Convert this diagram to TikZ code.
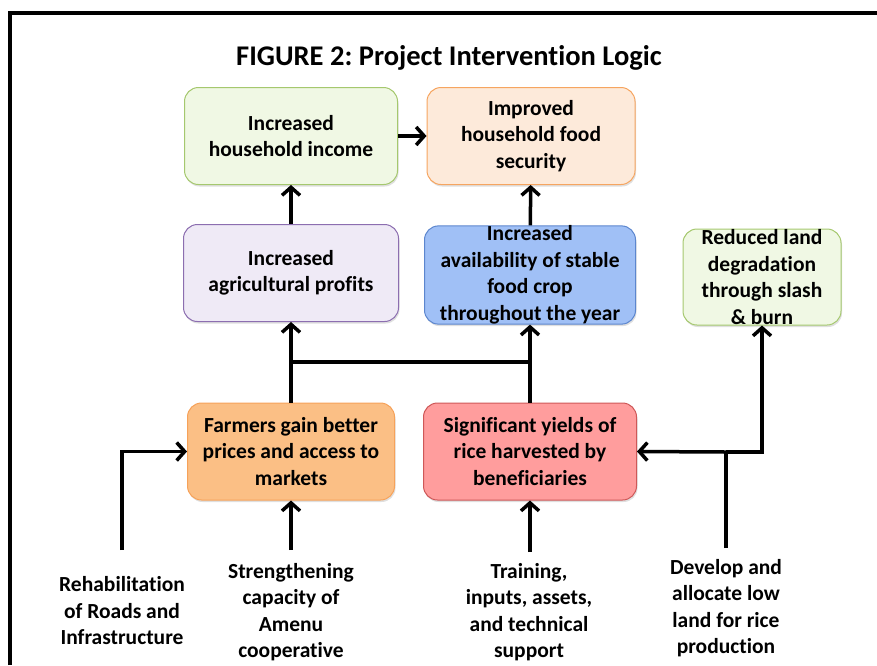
\documentclass[tikz,border=0pt]{standalone}
\usepackage{fontspec}
\setmainfont{Carlito}[Ligatures=CommonOff]
\usetikzlibrary{arrows.meta,shadows}
\frenchspacing

\definecolor{greenfill}{RGB}{240,248,228}
\definecolor{greenline}{RGB}{165,200,110}
\definecolor{peachfill}{RGB}{253,234,218}
\definecolor{peachline}{RGB}{246,165,96}
\definecolor{lilacfill}{RGB}{239,234,246}
\definecolor{lilacline}{RGB}{140,110,176}
\definecolor{bluefill}{RGB}{160,192,246}
\definecolor{blueline}{RGB}{92,134,206}
\definecolor{orangefill}{RGB}{251,191,133}
\definecolor{orangeline}{RGB}{246,162,90}
\definecolor{redfill}{RGB}{255,157,157}
\definecolor{redline}{RGB}{206,88,88}

\begin{document}
\begin{tikzpicture}[x=1pt,y=1pt,yscale=-1,
  box/.style={draw, rounded corners=14pt, line width=1pt, inner sep=0pt,
    minimum width=213pt, minimum height=97pt, align=center,
    font=\fontsize{21.5}{26.5}\selectfont\bfseries,
    drop shadow={shadow xshift=1pt, shadow yshift=-2pt, opacity=.25}},
  input/.style={align=center, font=\fontsize{21.5}{26.5}\selectfont\bfseries},
  link/.style={line width=3.5pt},
  arr/.style={link, -{Straight Barb[length=8pt,width=18pt]}}]
\useasboundingbox (0,0) rectangle (877,665);

% frame
\draw[line width=4.5pt] (10,665) -- (10,13) -- (877,13);

% title
\node[anchor=base, font=\fontsize{28.5}{34}\selectfont\bfseries] (title) at (449,65) {FIGURE 2: Project Intervention Logic};

% outcome boxes
\node[box, fill=greenfill, draw=greenline] (income) at (291,136) {Increased\\household income};
\node[box, fill=peachfill, draw=peachline, minimum width=208pt] (food) at (531,136) {Improved\\household food\\security};
\node[box, fill=lilacfill, draw=lilacline, minimum width=215pt] (profits) at (291,273) {Increased\\agricultural profits};
\node[box, fill=bluefill, draw=blueline, minimum width=211pt] (avail) at (530,275) {Increased\\availability of stable\\food crop\\throughout the year};
\node[box, fill=greenfill, draw=greenline, minimum width=158pt, minimum height=96pt] (reduced) at (762,277) {Reduced land\\degradation\\through slash\\\& burn};

% output boxes
\node[box, fill=orangefill, draw=orangeline, minimum width=207pt] (farmers) at (291,451.5) {Farmers gain better\\prices and access to\\markets};
\node[box, fill=redfill, draw=redline] (yields) at (530,451.5) {Significant yields of\\rice harvested by\\beneficiaries};

% activities
\node[input] (rehab) at (122,611) {Rehabilitation\\of Roads and\\Infrastructure};
\node[input] (capacity) at (291,612) {Strengthening\\capacity of\\Amenu\\cooperative};
\node[input] (training) at (529,612) {Training,\\inputs, assets,\\and technical\\support};
\node[input] (lowland) at (726,608) {Develop and\\allocate low\\land for rice\\production};

\coordinate (rehabtop) at (122,550);
\coordinate (captop) at (291,550);
\coordinate (traintop) at (530,552);
\coordinate (lowtop) at (726,548);
\coordinate (lowjoin) at (726,452);
\coordinate (mid) at (0,362);

% links
\draw[arr] (income) -- (food);
\draw[arr] (profits) -- (income);
\draw[arr] (avail) -- (food);
\draw[arr] (farmers) -- (profits);
\draw[arr] (yields) -- (avail);
\draw[link] (farmers.north |- mid) -- (yields.north |- mid);

\draw[arr] (rehabtop) |- (farmers.west);
\draw[arr] (captop) -- (farmers);
\draw[arr] (traintop) -- (yields);
\draw[link] (lowtop) -- (lowjoin);
\draw[arr] (lowjoin) -- (yields.east);
\draw[arr] (lowjoin) -| (reduced.south);

\end{tikzpicture}
\end{document}
